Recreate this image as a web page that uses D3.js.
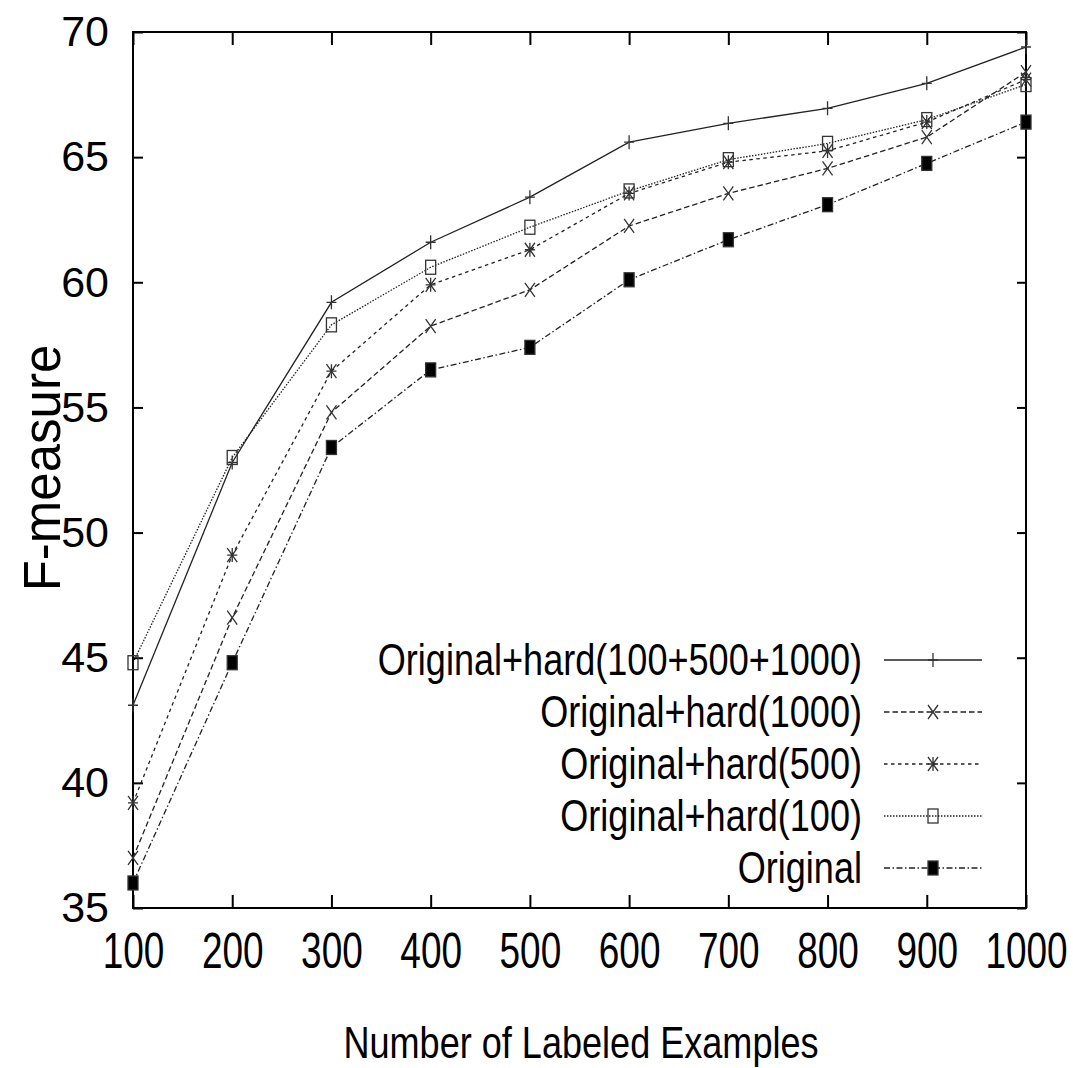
<!DOCTYPE html>
<html>
<head>
<meta charset="utf-8">
<script src="https://cdn.jsdelivr.net/npm/d3@7"></script>
<style>
  body { margin: 0; background: #fff; }
</style>
</head>
<body>
<div id="chart"></div>
<script>
// number of labeled examples
var xValues = [100, 200, 300, 400, 500, 600, 700, 800, 900, 1000];
var yTicks = [35, 40, 45, 50, 55, 60, 65, 70];

// F-measure for each run
var hardAll = [43.1, 52.8, 59.2, 61.6, 63.4, 65.6, 66.35, 66.95, 67.95, 69.4];
var hard1000 = [37.0, 46.6, 54.8, 58.25, 59.7, 62.25, 63.55, 64.55, 65.8, 68.4];
var hard500 = [39.2, 49.1, 56.45, 59.9, 61.3, 63.55, 64.8, 65.25, 66.4, 68.1];
var hard100 = [44.8, 53.0, 58.3, 60.6, 62.2, 63.65, 64.9, 65.55, 66.5, 67.9];
var original = [36.0, 44.8, 53.4, 56.5, 57.4, 60.1, 61.7, 63.1, 64.75, 66.4];

var seriesNames = ["Original+hard(100+500+1000)", "Original+hard(1000)", "Original+hard(500)", "Original+hard(100)", "Original"];

function init() {

    var w = 1073;
    var h = 1068;
    var margin = {top: 32, right: 47, bottom: 160, left: 133};

    // no narrow font installed, so squeeze Liberation Sans horizontally
    var font = "'Liberation Sans', Arial, Helvetica, sans-serif";
    var squeeze = "scale(0.82,1)";

    var series = [
        {name: seriesNames[0], values: hardAll, dash: null, marker: "plus"},
        {name: seriesNames[1], values: hard1000, dash: "5.5,3", marker: "cross"},
        {name: seriesNames[2], values: hard500, dash: "3.5,3.5", marker: "star"},
        {name: seriesNames[3], values: hard100, dash: "1.5,1.5", marker: "box"},
        {name: seriesNames[4], values: original, dash: "6,2.5,1.5,2.5", marker: "filled"}
    ];

    var svg = d3.select("#chart")
        .append("svg")
        .attr("width", w)
        .attr("height", h);

    var xScale = d3.scaleLinear()
        .domain([100, 1000])
        .range([margin.left, w - margin.right]);

    var yScale = d3.scaleLinear()
        .domain([35, 70])
        .range([h - margin.bottom, margin.top]);

    var x0 = xScale.range()[0], x1 = xScale.range()[1];
    var y0 = yScale.range()[0], y1 = yScale.range()[1];

    // ticks point inward on all four sides, like gnuplot
    var xAxis = d3.axisBottom(xScale).tickValues(xValues).tickFormat(d3.format("d"))
        .tickSizeInner(-13).tickSizeOuter(0).tickPadding(22);
    var xAxisTop = d3.axisTop(xScale).tickValues(xValues).tickSizeInner(-13).tickSizeOuter(0).tickFormat("");
    var yAxis = d3.axisLeft(yScale).tickValues(yTicks).tickSizeInner(-10).tickSizeOuter(0).tickPadding(24);
    var yAxisRight = d3.axisRight(yScale).tickValues(yTicks).tickSizeInner(-9).tickSizeOuter(0).tickFormat("");

    var gx = svg.append("g").attr("transform", "translate(0," + y0 + ")").call(xAxis);
    var gxt = svg.append("g").attr("transform", "translate(0," + y1 + ")").call(xAxisTop);
    var gy = svg.append("g").attr("transform", "translate(" + x0 + ",0)").call(yAxis);
    var gyr = svg.append("g").attr("transform", "translate(" + x1 + ",0)").call(yAxisRight);

    [gx, gxt, gy, gyr].forEach(function(g) {
        g.select(".domain").remove();
        g.selectAll(".tick line").attr("stroke", "#000").attr("stroke-width", 2);
    });

    gx.selectAll(".tick text")
        .attr("font-family", font)
        .attr("font-size", "44px")
        .attr("transform", "scale(0.84,1.12)")
        .attr("fill", "#000");

    gy.selectAll(".tick text")
        .attr("font-family", font)
        .attr("font-size", "43px")
        .attr("fill", "#000");

    // plot border
    svg.append("rect")
        .attr("x", x0)
        .attr("y", y1)
        .attr("width", x1 - x0)
        .attr("height", y0 - y1)
        .attr("fill", "none")
        .attr("stroke", "#000")
        .attr("stroke-width", 2);

    // axis titles
    svg.append("text")
        .attr("transform", "translate(581,1058) " + squeeze)
        .attr("text-anchor", "middle")
        .attr("font-family", font)
        .attr("font-size", "44px")
        .text("Number of Labeled Examples");

    svg.append("text")
        .attr("transform", "translate(60,468) rotate(-90)")
        .attr("text-anchor", "middle")
        .attr("font-family", font)
        .attr("font-size", "51px")
        .text("F-measure");

    function drawMarker(g, type, cx, cy) {
        var a = 5, b = 7;
        if (type === "box" || type === "filled") {
            g.append("rect")
                .attr("x", cx - a)
                .attr("y", cy - b)
                .attr("width", 2 * a)
                .attr("height", 2 * b)
                .attr("fill", type === "filled" ? "#000" : "none")
                .attr("stroke", "#333")
                .attr("stroke-width", 1.3);
            return;
        }
        var d = "";
        if (type === "plus" || type === "star") {
            d += "M" + (cx - a) + "," + cy + "H" + (cx + a) + "M" + cx + "," + (cy - b) + "V" + (cy + b);
        }
        if (type === "cross" || type === "star") {
            d += "M" + (cx - a) + "," + (cy - b) + "L" + (cx + a) + "," + (cy + b);
            d += "M" + (cx - a) + "," + (cy + b) + "L" + (cx + a) + "," + (cy - b);
        }
        g.append("path")
            .attr("d", d)
            .attr("fill", "none")
            .attr("stroke", "#333")
            .attr("stroke-width", 1.3);
    }

    var line = d3.line()
        .x(function(d, i) { return xScale(xValues[i]); })
        .y(function(d) { return yScale(d); });

    series.forEach(function(s) {
        var g = svg.append("g");
        g.append("path")
            .datum(s.values)
            .attr("d", line)
            .attr("fill", "none")
            .attr("stroke", "#222")
            .attr("stroke-width", 1.3)
            .attr("stroke-dasharray", s.dash);
        s.values.forEach(function(v, i) {
            drawMarker(g, s.marker, xScale(xValues[i]), yScale(v));
        });
    });

    // legend, bottom right inside the plot
    var legendY = d3.scalePoint()
        .domain(seriesNames)
        .range([660, 868]);

    series.forEach(function(s) {
        var ly = legendY(s.name);
        var g = svg.append("g");
        g.append("text")
            .attr("transform", "translate(862," + ly + ") " + squeeze)
            .attr("dy", "0.35em")
            .attr("text-anchor", "end")
            .attr("font-family", font)
            .attr("font-size", "44px")
            .text(s.name);
        g.append("line")
            .attr("x1", 884)
            .attr("x2", 982)
            .attr("y1", ly)
            .attr("y2", ly)
            .attr("stroke", "#222")
            .attr("stroke-width", 1.3)
            .attr("stroke-dasharray", s.dash);
        drawMarker(g, s.marker, 933, ly);
    });
}

window.onload = init;
</script>
</body>
</html>
